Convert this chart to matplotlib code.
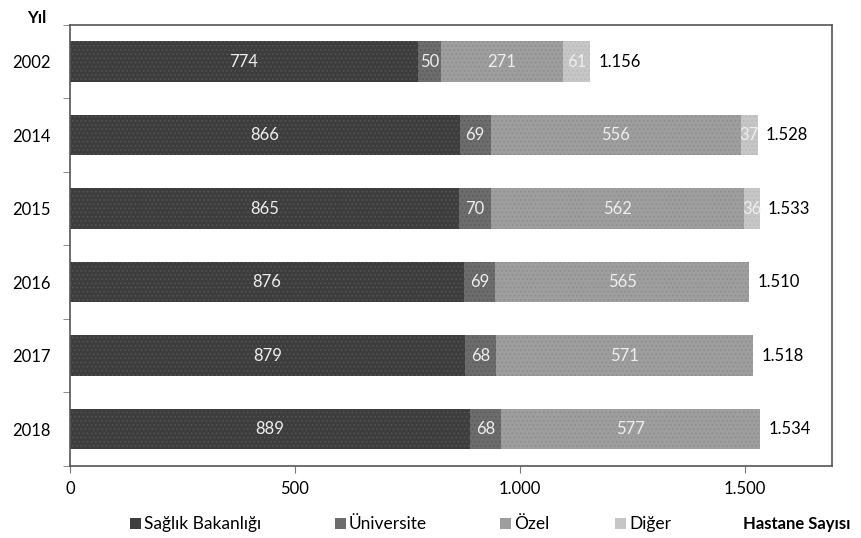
import matplotlib.pyplot as plt
from matplotlib.patches import Rectangle
from matplotlib.ticker import FuncFormatter

plt.rcParams['font.family'] = ['Lato', 'DejaVu Sans']
plt.rcParams['hatch.linewidth'] = 0.6

years = ['2002', '2014', '2015', '2016', '2017', '2018']
saglik = [774, 866, 865, 876, 879, 889]
univ = [50, 69, 70, 69, 68, 68]
ozel = [271, 556, 562, 565, 571, 577]
diger = [61, 37, 36, 0, 0, 0]
toplam = [1156, 1528, 1533, 1510, 1518, 1534]

names = ['Sağlık Bakanlığı', 'Üniversite', 'Özel', 'Diğer']
colors = ['#3d3d3d', '#6c6c6c', '#9e9e9e', '#c6c6c6']
hatch_cols = ['#555555', '#5a5a5a', '#8c8c8c', '#b8b8b8']

fig = plt.figure(figsize=(8.62, 5.38), dpi=100)
ax = fig.add_axes([0.081, 0.134, 0.884, 0.820])

y = list(range(len(years)))
left = [0] * len(years)
for vals, c, hc, name in zip([saglik, univ, ozel, diger], colors, hatch_cols, names):
    ax.barh(y, vals, left=left, height=0.55, color=c, edgecolor=hc,
            hatch='....', linewidth=0, label=name)
    for i, v in enumerate(vals):
        if v > 0:
            ax.text(left[i] + v / 2, y[i], str(v), ha='center', va='center',
                    color='#eeeeee', fontsize=12)
    left = [a + b for a, b in zip(left, vals)]

def fmt(v, pos=None):
    return f'{int(v):,}'.replace(',', '.')

for i, t in enumerate(toplam):
    ax.text(t + 18, y[i], fmt(t), ha='left', va='center', fontsize=12, color='black')

ax.set_xlim(0, 1693)
ax.set_ylim(5.5, -0.5)
ax.set_yticks(y)
ax.set_yticklabels(years, fontsize=12)
ax.set_yticks([i - 0.5 for i in range(len(years) + 1)], minor=True)
ax.tick_params(axis='y', which='major', length=0, pad=14)
ax.tick_params(axis='y', which='minor', length=5, color='#777777')
ax.set_xticks([0, 500, 1000, 1500])
ax.xaxis.set_major_formatter(FuncFormatter(fmt))
ax.tick_params(axis='x', length=5, color='#777777', labelsize=12, pad=6)
for s in ax.spines.values():
    s.set_color('#555555')
    s.set_linewidth(1.2)

fig.text(0.032, 0.966, 'Yıl', fontsize=12, fontweight='bold', va='center')

# legend row drawn by hand so the item spacing stays uneven like the source
leg_x = [130, 335, 500, 615]
leg_y = 524
for xp, c, name in zip(leg_x, colors, names):
    fig.patches.append(Rectangle((xp / 862, (538 - leg_y - 5) / 538), 11 / 862, 11 / 538,
                                 transform=fig.transFigure, facecolor=c, edgecolor='none'))
    fig.text((xp + 14) / 862, 1 - leg_y / 538, name, fontsize=12.5, va='center')
fig.text(743 / 862, 1 - leg_y / 538, 'Hastane Sayısı', fontsize=12, fontweight='bold', va='center')

fig.savefig('out.png', dpi=100)
